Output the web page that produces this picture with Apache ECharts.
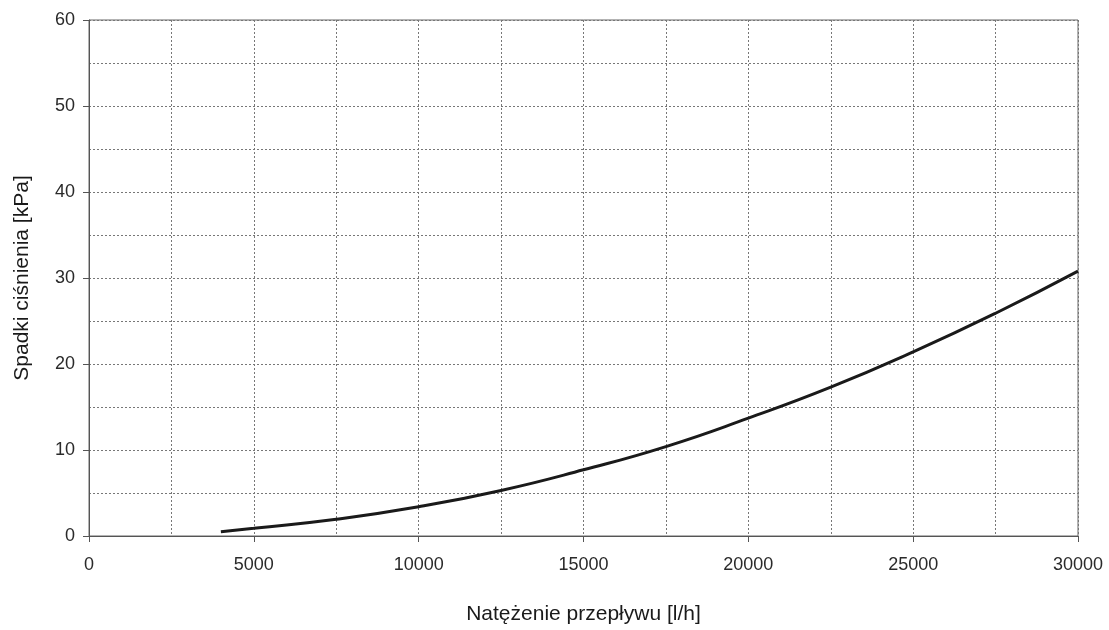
<!DOCTYPE html>
<html><head><meta charset="utf-8">
<script src="https://cdn.jsdelivr.net/npm/echarts@6/dist/echarts.min.js"></script>
<style>html,body{margin:0;padding:0;background:#fff}#c{width:1109px;height:630px}</style>
</head><body><div id="c"></div>
<script>
const flowLh = [4000, 5000, 7500, 10000, 12500, 15000, 17500, 20000, 22500, 25000, 27500, 30000];
const dropKPa = [0.5, 0.9, 1.95, 3.4, 5.3, 7.7, 10.4, 13.7, 17.3, 21.4, 25.9, 30.8];
const xTitle = 'Natężenie przepływu [l/h]';
const yTitle = 'Spadki ciśnienia [kPa]';

const font = 'Liberation Sans, Arial, sans-serif';
const chart = echarts.init(document.getElementById('c'));
chart.setOption({
  animation: false,
  grid: { left: 89, right: 31, top: 20, bottom: 91, show: true, borderColor: '#666', borderWidth: 1 },
  xAxis: {
    type: 'value', min: 0, max: 30000, interval: 5000,
    name: xTitle, nameLocation: 'middle', nameGap: 68,
    nameTextStyle: { fontFamily: font, fontSize: 21, color: '#1a1a1a' },
    axisLine: { show: true, lineStyle: { color: '#555', width: 1 } },
    axisTick: { show: true, length: 6, lineStyle: { color: '#555' } },
    axisLabel: { fontFamily: font, fontSize: 18, color: '#2a2a2a', margin: 20, formatter: v => String(v) },
    splitLine: { show: true, lineStyle: { color: '#777', type: [2, 2], width: 1 } },
    minorTick: { show: false, splitNumber: 2 },
    minorSplitLine: { show: true, lineStyle: { color: '#777', type: [2, 2], width: 1 } }
  },
  yAxis: {
    type: 'value', min: 0, max: 60, interval: 10,
    name: yTitle, nameLocation: 'middle', nameGap: 56,
    nameTextStyle: { fontFamily: font, fontSize: 21, color: '#1a1a1a' },
    axisLine: { show: true, lineStyle: { color: '#555', width: 1 } },
    axisTick: { show: true, length: 6, lineStyle: { color: '#555' } },
    axisLabel: { fontFamily: font, fontSize: 18, color: '#2a2a2a', margin: 14 },
    splitLine: { show: true, lineStyle: { color: '#777', type: [2, 2], width: 1 } },
    minorTick: { show: false, splitNumber: 2 },
    minorSplitLine: { show: true, lineStyle: { color: '#777', type: [2, 2], width: 1 } }
  },
  series: [{
    type: 'line', smooth: true, showSymbol: false,
    data: flowLh.map((x, i) => [x, dropKPa[i]]),
    lineStyle: { color: '#1a1a1a', width: 3 }
  }]
});
</script></body></html>
